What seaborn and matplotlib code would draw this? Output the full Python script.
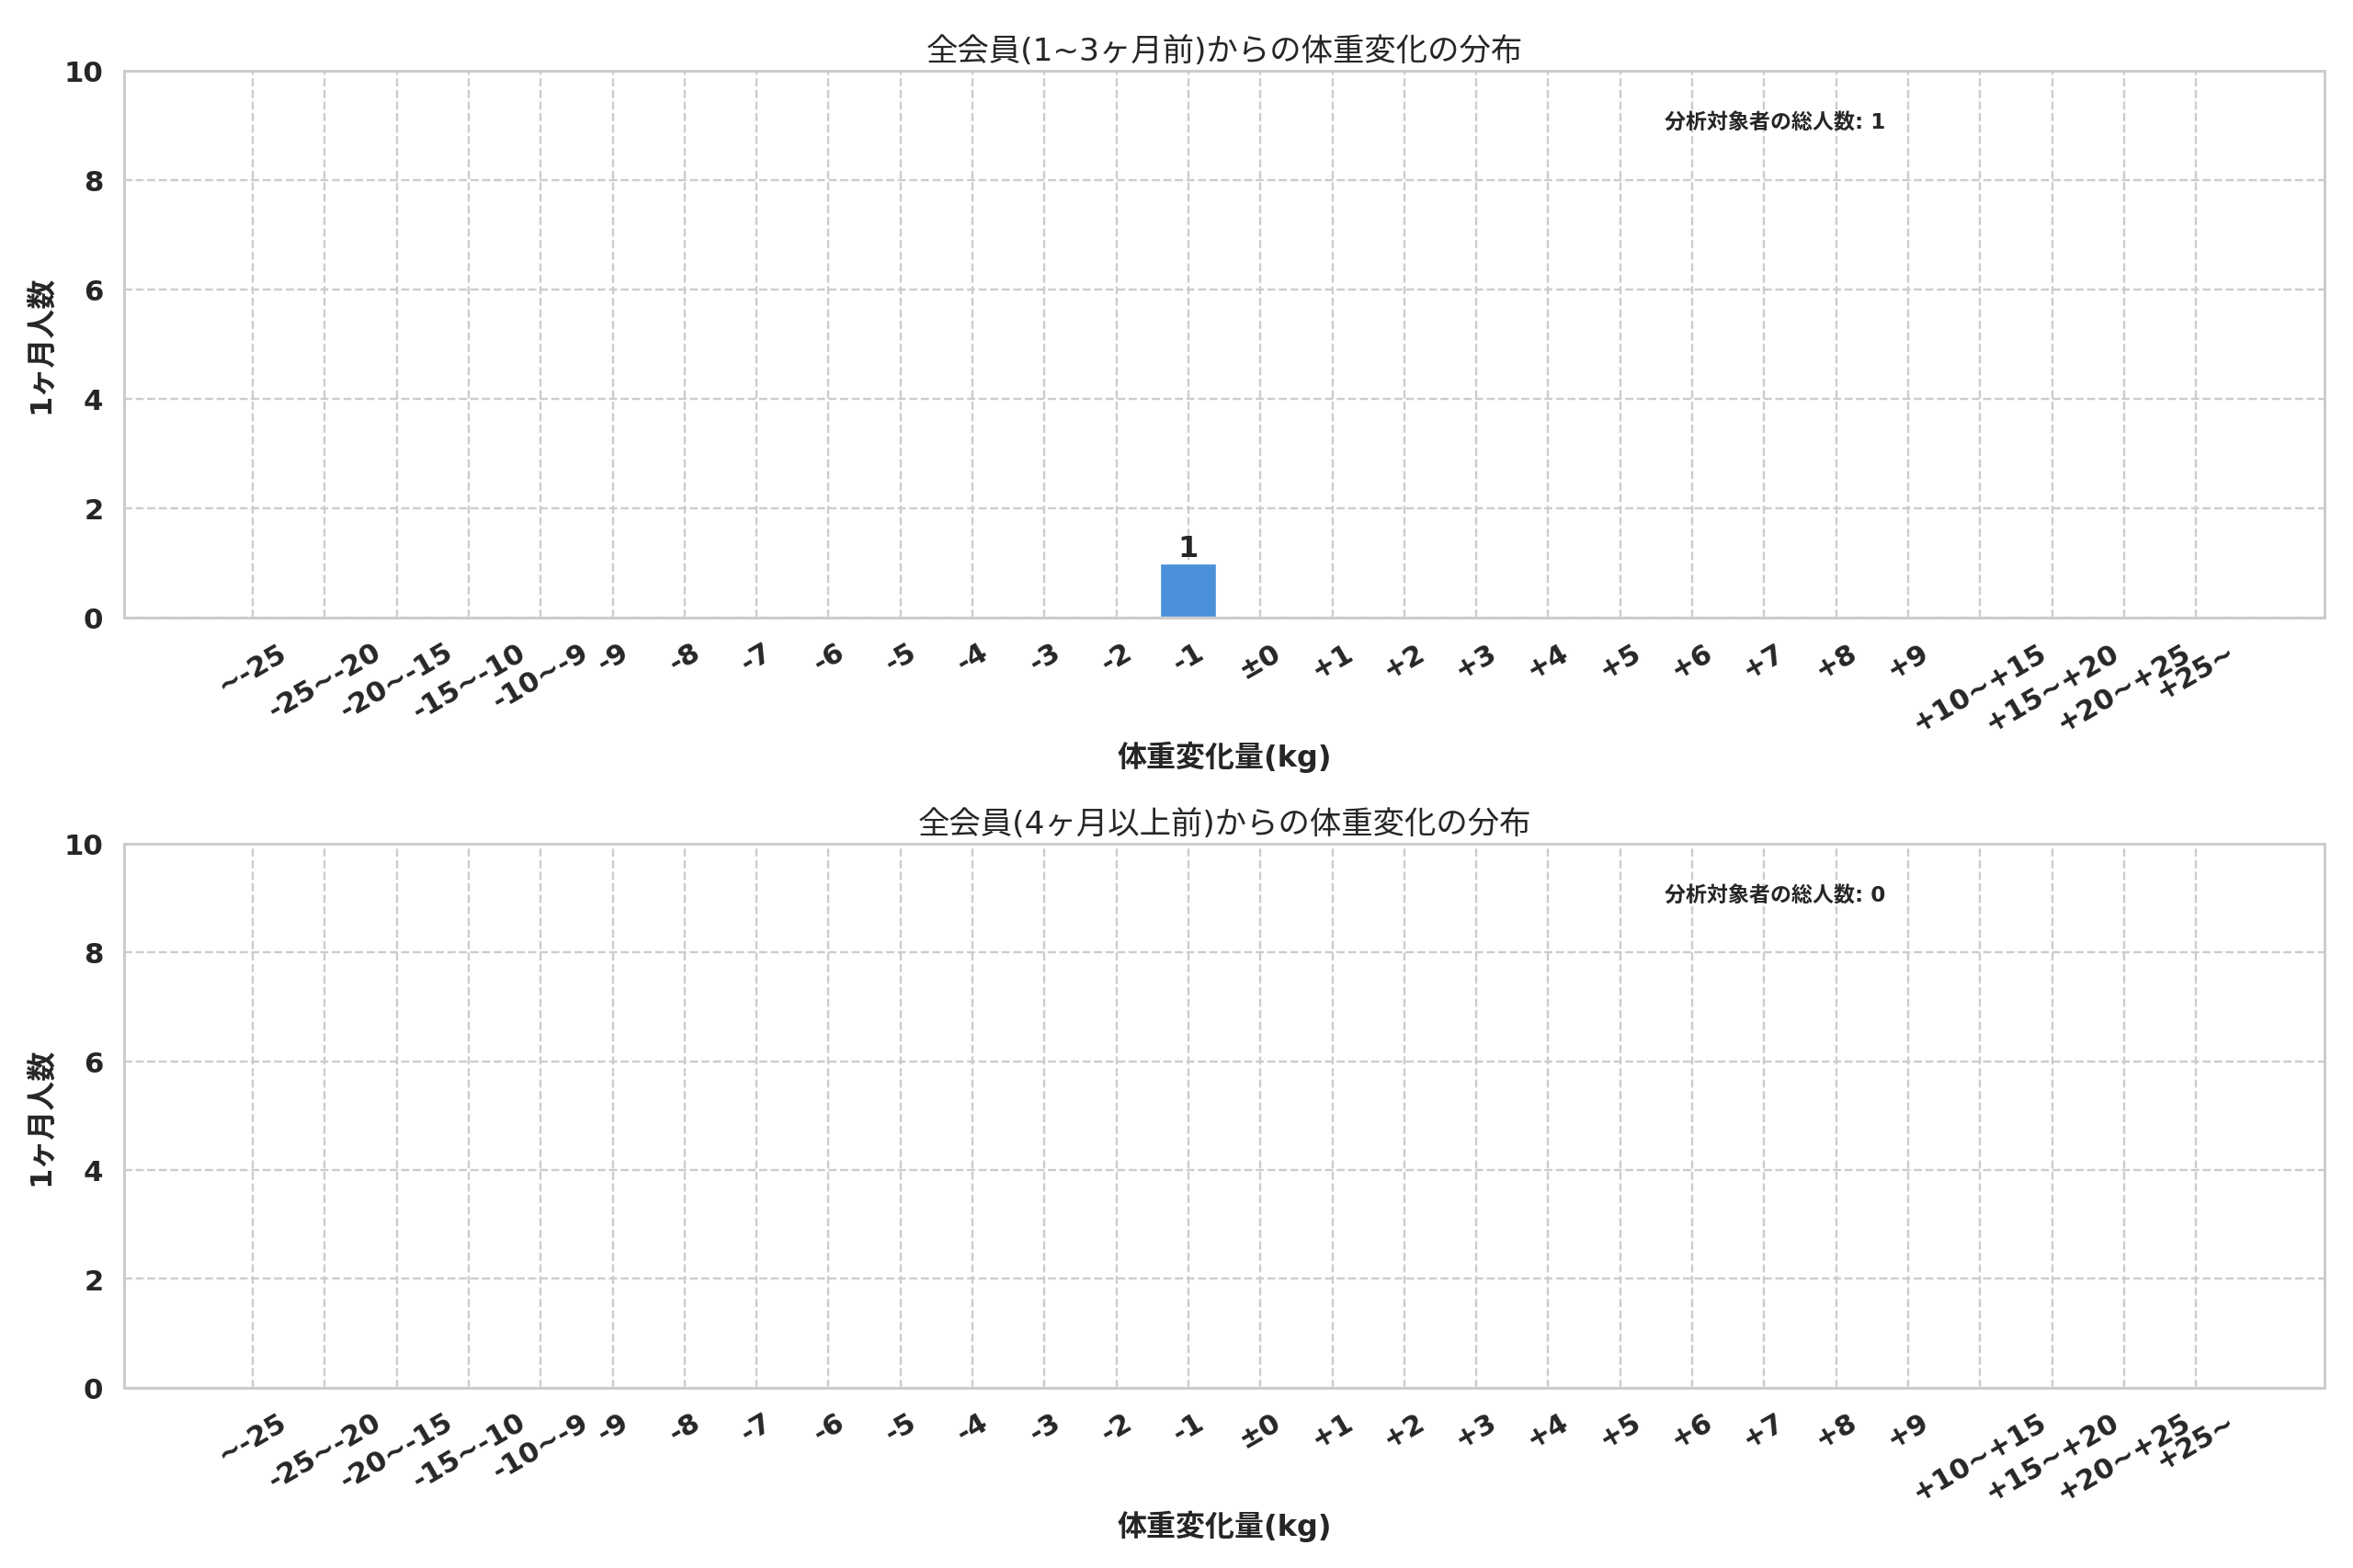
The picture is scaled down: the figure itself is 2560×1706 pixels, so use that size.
import numpy as np
import pandas as pd
import seaborn as sns
import matplotlib.pyplot as plt

# weight-change bins (kg)
bins = ["~-25", "-25~-20", "-20~-15", "-15~-10", "-10~-9",
        "-9", "-8", "-7", "-6", "-5", "-4", "-3", "-2", "-1", "±0",
        "+1", "+2", "+3", "+4", "+5", "+6", "+7", "+8", "+9",
        "+10~+15", "+15~+20", "+20~+25", "+25~"]

# counts per bin
counts_recent = [0, 0, 0, 0, 0,
                 0, 0, 0, 0, 0, 0, 0, 0, 1, 0,
                 0, 0, 0, 0, 0, 0, 0, 0, 0,
                 0, 0, 0, 0]
counts_old = [0, 0, 0, 0, 0,
              0, 0, 0, 0, 0, 0, 0, 0, 0, 0,
              0, 0, 0, 0, 0, 0, 0, 0, 0,
              0, 0, 0, 0]

titles = ["全会員(1~3ヶ月前)からの体重変化の分布",
          "全会員(4ヶ月以上前)からの体重変化の分布"]
x_label = "体重変化量(kg)"
y_label = "1ヶ月人数"
note_label = "分析対象者の総人数"
BAR_COLOR = "#4A90D9"

sns.set_theme(style="whitegrid")
plt.rcParams['font.family'] = ['DejaVu Sans', 'Noto Sans CJK JP']

fig, axes = plt.subplots(2, 1, figsize=(15, 10))
axes[0].set_position([0.0527, 0.6058, 0.9353, 0.3486])
axes[1].set_position([0.0527, 0.1150, 0.9353, 0.3468])

for ax, counts, title in zip(axes, [counts_recent, counts_old], titles):
    df = pd.DataFrame({"bin": bins, "count": counts})
    sns.barplot(data=df, x="bin", y="count", order=bins, color=BAR_COLOR,
                saturation=1, width=0.8, ax=ax)
    n = len(bins)
    pad = 0.05 * (n - 1 + 0.8)
    ax.set_xlim(-0.4 - pad, n - 1 + 0.4 + pad)
    ax.set_ylim(0, 10)
    ax.set_yticks(range(0, 11, 2))
    ax.grid(True, linestyle='--', linewidth=1, color='#cccccc')
    ax.set_axisbelow(True)

    ax.set_title(title, fontsize=14.5, pad=5)
    ax.set_xlabel(x_label, fontsize=13.5, fontweight='bold', labelpad=2)
    ax.set_ylabel(y_label, fontsize=13.5, fontweight='bold')
    ax.tick_params(axis='x', rotation=30)
    for lbl in ax.get_xticklabels() + ax.get_yticklabels():
        lbl.set_fontweight('bold')
        lbl.set_fontsize(13)

    labels = [str(v) if v > 0 else "" for v in counts]
    ax.bar_label(ax.containers[0], labels=labels, fontsize=13.5,
                 fontweight='bold', padding=0)

    ax.text(0.7, 0.905, f"{note_label}: {sum(counts)}", transform=ax.transAxes,
            fontsize=9.7, fontweight='bold', ha='left', va='center')

fig.savefig("out.png", dpi=2560 / 15)
